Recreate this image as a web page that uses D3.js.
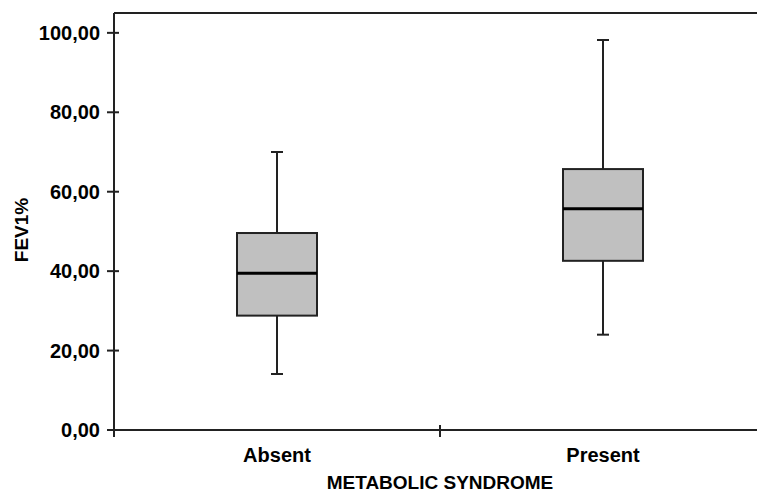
<!DOCTYPE html>
<html>
<head>
    <meta charset="utf-8">
    <title>FEV1% by metabolic syndrome</title>
    <style>
        body { margin: 0; background: #fff; }
        text { font-family: "Liberation Sans", Arial, sans-serif; font-weight: bold; fill: #000; }
    </style>
    <script src="https://cdn.jsdelivr.net/npm/d3@7"></script>
</head>
<body>
<script>

    // data
    var groups = ["Absent", "Present"]
    var whiskerLow = [14.1, 24.0]
    var q1 = [28.8, 42.6]
    var median = [39.5, 55.7]
    var q3 = [49.6, 65.7]
    var whiskerHigh = [70.0, 98.2]
    var yTicks = [0, 20, 40, 60, 80, 100]

    var view_width = 757,
        view_height = 493,
        plot_left = 114,
        plot_right = 766,
        plot_top = 13,
        plot_bottom = 430,
        box_width = 80,
        cap_width = 12

    var svg = d3.select('body').append('svg')
        .attr('width', view_width)
        .attr('height', view_height)

    var x = d3.scaleBand()
        .domain(groups)
        .range([plot_left, plot_right])

    var y = d3.scaleLinear()
        .domain([0, 105])
        .range([plot_bottom, plot_top])

    var fmt = function (d) { return d3.format('.2f')(d).replace('.', ',') }

    // frame top line
    svg.append('line')
        .attr('x1', plot_left).attr('y1', plot_top)
        .attr('x2', view_width).attr('y2', plot_top)
        .attr('stroke', '#222').attr('stroke-width', 2)

    // y axis
    svg.append('line')
        .attr('x1', plot_left).attr('y1', plot_top)
        .attr('x2', plot_left).attr('y2', plot_bottom + 7)
        .attr('stroke', '#222').attr('stroke-width', 2)

    var yt = svg.append('g').selectAll('g')
        .data(yTicks)
        .enter().append('g')
    yt.append('line')
        .attr('x1', plot_left - 7).attr('x2', plot_left + 5)
        .attr('y1', function (d) { return y(d) })
        .attr('y2', function (d) { return y(d) })
        .attr('stroke', '#222').attr('stroke-width', 2)
    yt.append('text')
        .attr('x', 100)
        .attr('y', function (d) { return y(d) })
        .attr('dy', '0.36em')
        .attr('text-anchor', 'end')
        .style('font-size', '20px')
        .text(fmt)

    // x axis
    svg.append('line')
        .attr('x1', plot_left - 7).attr('y1', plot_bottom)
        .attr('x2', view_width).attr('y2', plot_bottom)
        .attr('stroke', '#222').attr('stroke-width', 2)

    svg.append('line')
        .attr('x1', x(groups[1])).attr('x2', x(groups[1]))
        .attr('y1', plot_bottom - 5).attr('y2', plot_bottom + 7)
        .attr('stroke', '#222').attr('stroke-width', 2)

    svg.append('g').selectAll('text')
        .data(groups)
        .enter().append('text')
        .attr('x', function (d) { return x(d) + x.bandwidth() / 2 })
        .attr('y', 462)
        .attr('text-anchor', 'middle')
        .style('font-size', '20px')
        .text(function (d) { return d })

    svg.append('text')
        .attr('x', x(groups[1]))
        .attr('y', 489)
        .attr('text-anchor', 'middle')
        .style('font-size', '19px')
        .text('METABOLIC SYNDROME')

    svg.append('text')
        .attr('transform', 'translate(28,230) rotate(-90)')
        .attr('text-anchor', 'middle')
        .style('font-size', '19px')
        .text('FEV1%')

    // boxes
    var boxes = svg.append('g').selectAll('g')
        .data(groups)
        .enter().append('g')
        .attr('transform', function (d) { return 'translate(' + (x(d) + x.bandwidth() / 2) + ',0)' })

    boxes.append('line')
        .attr('x1', 0).attr('x2', 0)
        .attr('y1', function (d, i) { return y(whiskerHigh[i]) })
        .attr('y2', function (d, i) { return y(q3[i]) })
        .attr('stroke', '#222').attr('stroke-width', 2)
    boxes.append('line')
        .attr('x1', 0).attr('x2', 0)
        .attr('y1', function (d, i) { return y(q1[i]) })
        .attr('y2', function (d, i) { return y(whiskerLow[i]) })
        .attr('stroke', '#222').attr('stroke-width', 2)
    boxes.append('line')
        .attr('x1', -cap_width / 2).attr('x2', cap_width / 2)
        .attr('y1', function (d, i) { return y(whiskerHigh[i]) })
        .attr('y2', function (d, i) { return y(whiskerHigh[i]) })
        .attr('stroke', '#222').attr('stroke-width', 2)
    boxes.append('line')
        .attr('x1', -cap_width / 2).attr('x2', cap_width / 2)
        .attr('y1', function (d, i) { return y(whiskerLow[i]) })
        .attr('y2', function (d, i) { return y(whiskerLow[i]) })
        .attr('stroke', '#222').attr('stroke-width', 2)

    boxes.append('rect')
        .attr('x', -box_width / 2)
        .attr('width', box_width)
        .attr('y', function (d, i) { return y(q3[i]) })
        .attr('height', function (d, i) { return y(q1[i]) - y(q3[i]) })
        .attr('fill', '#c0c0c0')
        .attr('stroke', '#222').attr('stroke-width', 2)

    boxes.append('line')
        .attr('x1', -box_width / 2).attr('x2', box_width / 2)
        .attr('y1', function (d, i) { return y(median[i]) })
        .attr('y2', function (d, i) { return y(median[i]) })
        .attr('stroke', '#000').attr('stroke-width', 3)

</script>
</body>
</html>
